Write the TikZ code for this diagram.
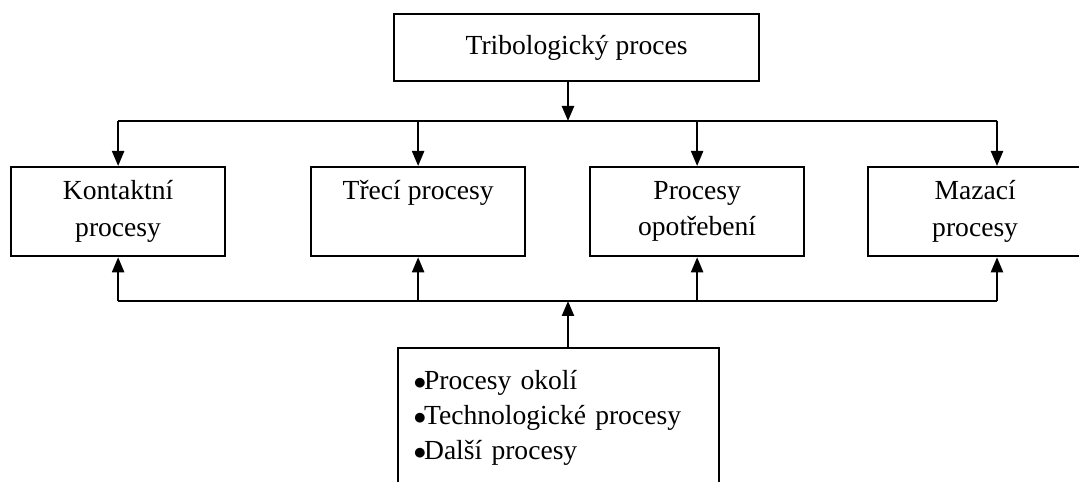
\documentclass[tikz,border=0pt]{standalone}
\usepackage{fontspec}
\setmainfont{Liberation Serif}
\usetikzlibrary{positioning,arrows.meta}
\newcommand\bul{$\bullet$\kern-0.08em}

\begin{document}
\begin{tikzpicture}[x=0.02cm, y=-0.02cm,
   >={Triangle[length=0.3cm,width=0.24cm]}, line width=1.3pt,
   blk/.style={draw, align=center, anchor=north west,
               minimum width=4.28cm, minimum height=1.78cm,
               font=\fontsize{15.7}{20.8}\selectfont, inner sep=3pt},
   lst/.style={draw, align=left, anchor=north west, text width=5.8cm,
               minimum width=6.42cm, minimum height=2.78cm,
               font=\fontsize{15.7}{19.9}\selectfont, inner xsep=0.3cm}]
  \useasboundingbox[fill=white] (0,0) rectangle (1079,482);
  \node[blk, minimum width=7.3cm, minimum height=1.34cm] (trib) at (393,13) {Tribologický proces};
  \node[blk] (kont) at (10,166) {Kontaktní\\procesy};
  \node[blk] (trec) at (310,166) {Třecí procesy\\\phantom{procesy}};
  \node[blk] (opot) at (589,166) {Procesy\\opotřebení};
  \node[blk] (maz) at (867,166) {Mazací\\procesy};
  \node[lst] (okoli) at (397,347) {\bul Procesy okolí\\\bul Technologické procesy\\\bul Další procesy};
  % sbernice nahore a dole
  \coordinate (tbus) at (568,121);
  \coordinate (bbus) at (568,301);
  \coordinate (tbR) at (997,121);
  \coordinate (bbR) at (997,301);
  \draw[->] (trib.south -| tbus) -- (tbus);
  \draw (kont.north |- tbus) -- (tbR);
  \foreach \n in {kont,trec,opot}
    \draw[->] (\n.north |- tbus) -- (\n.north);
  \draw[->] (tbR) -- (tbR |- maz.north);
  \draw[->] (okoli.north -| bbus) -- (bbus);
  \draw (kont.south |- bbus) -- (bbR);
  \foreach \n in {kont,trec,opot}
    \draw[->] (\n.south |- bbus) -- (\n.south);
  \draw[->] (bbR) -- (bbR |- maz.south);
\end{tikzpicture}
\end{document}
